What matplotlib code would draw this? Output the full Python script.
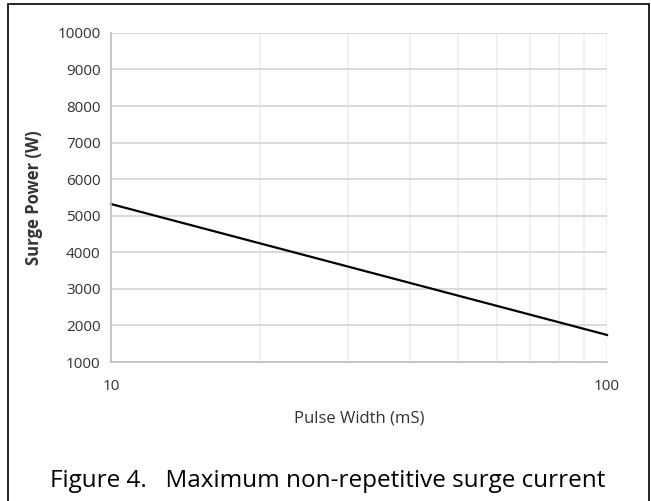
import numpy as np
import matplotlib
matplotlib.use('Agg')
import matplotlib.pyplot as plt
from matplotlib.patches import Rectangle
from matplotlib.ticker import FixedLocator, NullFormatter

# ── Data ─────────────────────────────────────────────────────────────────
pulse_width = [10, 100]          # mS
surge_power = [5320, 1740]       # W
y_ticks = [1000, 2000, 3000, 4000, 5000, 6000, 7000, 8000, 9000, 10000]
x_major = [10, 100]
x_minor = [20, 30, 40, 50, 60, 70, 80, 90]

plt.rcParams['font.family'] = ['Open Sans', 'DejaVu Sans']

fig = plt.figure(figsize=(6.51, 5.01), dpi=100)
ax = fig.add_axes([0.1705, 0.2774, 0.762, 0.657])

grid_c = '#d9d9d9'
ax.set_xscale('log')
ax.set_xlim(10, 100)
ax.set_ylim(1000, 10000)

ax.xaxis.set_major_locator(FixedLocator(x_major))
ax.xaxis.set_minor_locator(FixedLocator(x_minor))
ax.xaxis.set_minor_formatter(NullFormatter())
ax.set_xticklabels([str(v) for v in x_major])
ax.set_yticks(y_ticks)

ax.grid(True, which='major', axis='y', color=grid_c, lw=1.4)
ax.grid(True, which='both', axis='x', color='#ececec', lw=1.2)
ax.tick_params(which='both', length=0)
ax.tick_params(axis='y', pad=7.5, labelsize=11, colors='#333333')
ax.tick_params(axis='x', pad=12, labelsize=11, colors='#333333')
ax.set_axisbelow(True)

for s in ['top', 'right']:
    ax.spines[s].set_visible(False)
for s in ['left', 'bottom']:
    ax.spines[s].set_color('#bfbfbf')
    ax.spines[s].set_linewidth(1.2)

ax.plot(pulse_width, surge_power, color='black', lw=1.6, clip_on=False)

ax.set_xlabel('Pulse Width (mS)', fontsize=12, color='#333333', labelpad=12)
ax.set_ylabel('Surge Power (W)', fontsize=12, fontweight='bold',
              color='#333333', labelpad=10)

# outer frame
fig.patches.append(Rectangle((8 / 651, -0.01), 641 / 651, 1 - 4 / 501 + 0.01,
                             transform=fig.transFigure, fill=False,
                             edgecolor='black', lw=1.2))

fig.text(0.504, 1 - 481 / 501, 'Figure 4.   Maximum non-repetitive surge current',
         ha='center', va='center', fontsize=17.5, color='black')

plt.savefig('out.png', dpi=100)
